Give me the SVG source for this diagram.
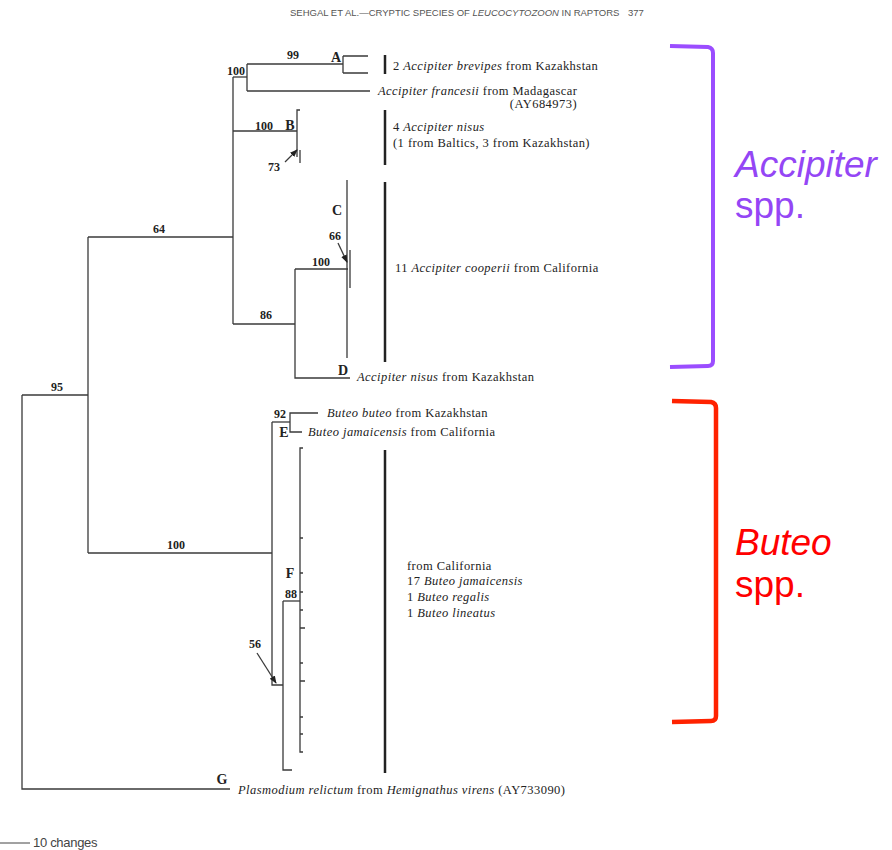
<svg xmlns="http://www.w3.org/2000/svg" width="892" height="850" viewBox="0 0 892 850">
<defs>
<marker id="ah" markerWidth="8" markerHeight="8" refX="7" refY="4" orient="auto" markerUnits="userSpaceOnUse">
<path d="M0,1 L8,4 L0,7 Z" fill="#222"/>
</marker>
<style>
.br{fill:none;stroke:#3a3a3a;stroke-width:1.3}
.bar{stroke:#222;stroke-width:2.5}
.sv{font-family:"Liberation Serif",serif;font-weight:bold;font-size:12px;fill:#222}
.lb{font-family:"Liberation Serif",serif;font-weight:bold;font-size:14px;fill:#222}
.tx{font-family:"Liberation Serif",serif;font-size:12.5px;letter-spacing:0.45px;fill:#222}
.it{font-style:italic}
.hd{font-family:"Liberation Sans",sans-serif;font-size:9.5px;fill:#555}
.grp{font-family:"Liberation Sans",sans-serif;font-size:37px}
</style>
</defs>
<rect width="892" height="850" fill="#fff"/>
<g id="header">
<text class="hd" x="290" y="16">SEHGAL ET AL.—CRYPTIC SPECIES OF <tspan font-style="italic">LEUCOCYTOZOON</tspan> IN RAPTORS</text>
<text class="hd" x="628" y="16">377</text>
</g>
<g id="connectors">
<path class="br" d="M22,395 V789 H230"/>
<path class="br" d="M22,395 H88"/>
<path class="br" d="M88,237 V553"/>
<path class="br" d="M88,237 H233"/>
<path class="br" d="M88,553 H272"/>
<path class="br" d="M233,77 V324"/>
<path class="br" d="M233,77 H247"/>
<path class="br" d="M247,64 V91"/>
<path class="br" d="M247,64 H343"/>
<path class="br" d="M343,56 V73 M343,56 H368 M343,73 H368"/>
<path class="br" d="M247,91 H370"/>
<path class="br" d="M233,131 H297"/>
<path class="br" d="M300,110 H297 V157"/>
<path class="br" d="M300,150 V163"/>
<path class="br" d="M233,324 H295"/>
<path class="br" d="M295,269 V378 H350"/>
<path class="br" d="M295,269 H348"/>
<path class="br" d="M347,180 V358"/>
<path class="br" d="M350,250 V288"/>
<path class="br" d="M272,422 V685 H283"/>
<path class="br" d="M272,422 H290"/>
<path class="br" d="M318,413 H290 V432 H302"/>
<path class="br" d="M283,601 V770 H292"/>
<path class="br" d="M283,601 H300"/>
<path class="br" d="M303,448 H300 V752 H303"/>
<path class="br" d="M300,538 H303 M300,573 H303 M300,592 H303 M300,610 H303 M300,628 H305 M300,663 H303 M300,681 H305 M300,717 H303 M300,734 H303"/>
<line class="br" x1="285" y1="162" x2="297" y2="150" marker-end="url(#ah)"/>
<line class="br" x1="338" y1="243" x2="347" y2="262" marker-end="url(#ah)"/>
<line class="br" x1="257" y1="653" x2="276" y2="683" marker-end="url(#ah)"/>
</g>
<g id="support">
<text class="sv" x="293" y="59" text-anchor="middle">99</text>
<text class="sv" x="245" y="75" text-anchor="end">100</text>
<text class="sv" x="264" y="130" text-anchor="middle">100</text>
<text class="sv" x="274" y="171" text-anchor="middle">73</text>
<text class="sv" x="335" y="240" text-anchor="middle">66</text>
<text class="sv" x="321" y="266" text-anchor="middle">100</text>
<text class="sv" x="266" y="319" text-anchor="middle">86</text>
<text class="sv" x="159" y="233" text-anchor="middle">64</text>
<text class="sv" x="57" y="391" text-anchor="middle">95</text>
<text class="sv" x="280" y="418" text-anchor="middle">92</text>
<text class="sv" x="176" y="549" text-anchor="middle">100</text>
<text class="sv" x="291" y="598" text-anchor="middle">88</text>
<text class="sv" x="255" y="648" text-anchor="middle">56</text>
</g>
<g id="clade-A">
<text class="lb" x="336" y="62" text-anchor="middle">A</text>
<line class="bar" x1="385" y1="55" x2="385" y2="74"/>
<text class="tx" x="393" y="70">2 <tspan class="it">Accipiter brevipes</tspan> from Kazakhstan</text>
</g>
<g id="taxon-francesii">
<text class="tx" x="378" y="95"><tspan class="it">Accipiter francesii</tspan> from Madagascar</text>
<text class="tx" x="577" y="108" text-anchor="end">(AY684973)</text>
</g>
<g id="clade-B">
<text class="lb" x="290" y="130" text-anchor="middle">B</text>
<line class="bar" x1="385" y1="110" x2="385" y2="165"/>
<text class="tx" x="393" y="131">4 <tspan class="it">Accipiter nisus</tspan></text>
<text class="tx" x="393" y="147">(1 from Baltics, 3 from Kazakhstan)</text>
</g>
<g id="clade-C">
<text class="lb" x="337" y="215" text-anchor="middle">C</text>
<line class="bar" x1="385" y1="182" x2="385" y2="362"/>
<text class="tx" x="395" y="272">11 <tspan class="it">Accipiter cooperii</tspan> from California</text>
</g>
<g id="clade-D">
<text class="lb" x="343" y="375" text-anchor="middle">D</text>
<text class="tx" x="357" y="381"><tspan class="it">Accipiter nisus</tspan> from Kazakhstan</text>
</g>
<g id="clade-E">
<text class="lb" x="284" y="437" text-anchor="middle">E</text>
<text class="tx" x="327" y="417"><tspan class="it">Buteo buteo</tspan> from Kazakhstan</text>
<text class="tx" x="308" y="436"><tspan class="it">Buteo jamaicensis</tspan> from California</text>
</g>
<g id="clade-F">
<text class="lb" x="290" y="578" text-anchor="middle">F</text>
<line class="bar" x1="385" y1="450" x2="385" y2="773"/>
<text class="tx" x="407" y="570">from California</text>
<text class="tx" x="407" y="585">17 <tspan class="it">Buteo jamaicensis</tspan></text>
<text class="tx" x="407" y="601">1  <tspan class="it">Buteo regalis</tspan></text>
<text class="tx" x="407" y="617">1 <tspan class="it">Buteo lineatus</tspan></text>
</g>
<g id="outgroup-G">
<text class="lb" x="222" y="784" text-anchor="middle">G</text>
<text class="tx" x="238" y="794"><tspan class="it">Plasmodium relictum</tspan> from <tspan class="it">Hemignathus virens</tspan> (AY733090)</text>
</g>
<g id="scale">
<line x1="0" y1="843" x2="30" y2="843" stroke="#444" stroke-width="1"/>
<text x="33" y="847" font-family="'Liberation Sans',sans-serif" font-size="13" fill="#444" letter-spacing="-0.3">10 changes</text>
</g>
<g id="group-accipiter">
<path d="M670,46 L708,47 Q713,48 713,53 L713,361 Q713,366 708,366 L670,367" fill="none" stroke="#9b4dff" stroke-width="4"/>
<text class="grp" x="735" y="177" fill="#9446f5" font-style="italic">Accipiter</text>
<text class="grp" x="735" y="218" fill="#9446f5">spp.</text>
</g>
<g id="group-buteo">
<path d="M672,401 L711,402 Q716,403 716,408 L716,716 Q716,721 711,721 L672,722" fill="none" stroke="#ff2200" stroke-width="4.5"/>
<text class="grp" x="735" y="555" fill="#ff0000" font-style="italic">Buteo</text>
<text class="grp" x="735" y="597" fill="#ff0000">spp.</text>
</g>
</svg>
